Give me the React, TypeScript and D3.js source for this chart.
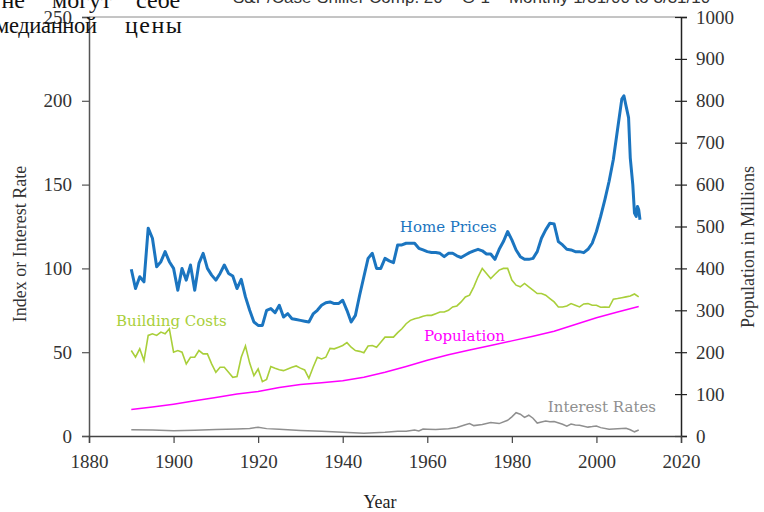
import * as d3 from "d3";
import { useEffect, useRef } from "react";

const homeYears = [
  1890, 1891, 1892, 1893, 1894, 1895, 1896, 1897, 1898, 1899, 1900, 1901, 1902, 1903, 1904, 1905, 1906, 1907, 1908, 1909,
  1910, 1911, 1912, 1913, 1914, 1915, 1916, 1917, 1918, 1919, 1920, 1921, 1922, 1923, 1924, 1925, 1926, 1927, 1928, 1929,
  1930, 1931, 1932, 1933, 1934, 1935, 1936, 1937, 1938, 1939, 1940, 1941, 1942, 1943, 1944, 1945, 1946, 1947, 1948, 1949,
  1950, 1951, 1952, 1953, 1954, 1955, 1956, 1957, 1958, 1959, 1960, 1961, 1962, 1963, 1964, 1965, 1966, 1967, 1968, 1969,
  1970, 1971, 1972, 1973, 1974, 1975, 1976, 1977, 1978, 1979, 1980, 1981, 1982, 1983, 1984, 1985, 1986, 1987, 1988, 1989,
  1990, 1991, 1992, 1993, 1994, 1995, 1996, 1997, 1998, 1999, 2000, 2001, 2002, 2003, 2004, 2005, 2006, 2006.5, 2007,
  2007.6, 2008, 2008.6, 2009, 2009.4, 2009.7, 2010, 2010.3,
];
const homePrices = [
  99.5, 88, 95, 92, 124, 118, 101, 104, 110, 104, 100, 87, 100, 93, 102, 87, 103, 109, 100, 96,
  93, 97, 102, 97, 95.5, 88, 93.5, 83, 75, 68, 66, 66, 75, 76, 73.6, 78, 71, 73, 70, 69.5,
  69, 68.5, 68, 72.8, 75, 78, 79.5, 80, 79, 79, 81, 75, 68, 72, 84, 95, 106, 109, 100, 100,
  106, 104.5, 103.4, 114, 114, 115, 115, 115, 112, 111, 110, 109.5, 109.5, 109, 107, 109, 109, 107.5, 106.5, 108,
  109.4, 110.5, 111.4, 110.5, 108.6, 108.6, 105.4, 111.4, 116, 122, 117, 111, 107, 105.4, 105.4, 106, 110, 118, 123, 127,
  126.5, 116, 114, 111.4, 111, 110, 110, 109.4, 111.4, 115, 122, 131, 141, 152, 165, 183, 201, 203, 197,
  190, 166, 150, 133, 131, 137, 135, 129,
];

const costYears = d3.range(1890, 2011);
const buildingCosts = [
  51, 47, 52, 45, 60, 61, 60, 62, 61, 64, 50, 51, 50, 43, 47, 47, 51, 49, 49, 43,
  38, 41, 41, 38, 35, 35.5, 47, 53.7, 43.5, 36, 40, 32.4, 33.8, 41.4, 40.4, 39.5, 39, 40, 41, 41.8,
  40.5, 39.4, 34.4, 41, 47, 46, 47, 52.3, 52, 53, 54, 55.7, 53, 51, 50.5, 49.7, 53.7, 54, 53, 56,
  59, 59, 59, 61.7, 64, 67, 69, 70, 70.5, 71.5, 72, 72, 73, 74, 74, 75, 77, 77.6, 80, 83,
  84, 89, 95, 100, 97, 94, 96.5, 99, 100, 100, 93, 90, 89, 91, 89, 87, 85, 85, 84, 82,
  80, 77, 77, 77.6, 79, 78, 77, 78.8, 79, 78, 78, 76.8, 77, 76.8, 81.6, 82, 82.5, 83, 83.5, 84.7,
  83,
];

const popYears = [
  1890, 1895, 1900, 1905, 1910, 1915, 1920, 1925, 1930, 1935, 1940, 1945, 1950, 1955, 1960, 1965, 1970, 1975, 1980,
  1985, 1990, 1995, 2000, 2005, 2010,
];
const population = [
  63, 69, 76, 84, 92, 100, 106, 116, 123, 127, 132, 140, 152, 166, 181, 194, 205, 216, 227, 238, 250, 266, 282, 296, 309,
];

const rateYears = [
  1890, 1895, 1900, 1905, 1910, 1915, 1918, 1920, 1922, 1925, 1930, 1935, 1940, 1945, 1950, 1953, 1955, 1957, 1958,
  1959, 1960, 1962, 1965, 1967, 1969, 1970, 1971, 1973, 1975, 1977, 1979, 1980, 1981, 1982, 1983, 1984, 1985, 1986,
  1987, 1988, 1989, 1990, 1992, 1993, 1994, 1995, 1996, 1998, 1999, 2000, 2001, 2003, 2005, 2007, 2008, 2009, 2010,
];
const interestRates = [
  3.7, 3.6, 3.2, 3.5, 3.9, 4.2, 4.5, 5.2, 4.4, 4.0, 3.3, 2.8, 2.2, 1.7, 2.3, 2.9, 2.8, 3.6, 3.0,
  4.2, 4.1, 3.9, 4.3, 5.1, 6.7, 7.4, 6.2, 6.9, 8.0, 7.4, 9.4, 11.4, 13.9, 13.0, 11.1, 12.4, 10.6, 7.7,
  8.4, 8.9, 8.5, 8.6, 7.0, 5.9, 7.1, 6.6, 6.4, 5.3, 5.6, 6.0, 5.0, 4.0, 4.3, 4.6, 3.7, 2.5, 3.6,
];

const yearTicks = [1880, 1900, 1920, 1940, 1960, 1980, 2000, 2020];
const leftTicks = [0, 50, 100, 150, 200, 250];
const rightTicks = [0, 100, 200, 300, 400, 500, 600, 700, 800, 900, 1000];

const W = 764;
const H = 512;
const M = { left: 89, right: 83, top: 17, bottom: 76 };
const serif = "'Liberation Serif', 'Times New Roman', serif";
const labelFont = "'DejaVu Serif', serif";

type Pt = [number, number];

const App = () => {
  const ref = useRef<SVGSVGElement | null>(null);

  useEffect(() => {
    if (!ref.current) return;
    const svg = d3.select(ref.current);
    svg.selectAll("*").remove();

    const x = d3.scaleLinear().domain([1880, 2020]).range([M.left, W - M.right]);
    const yL = d3.scaleLinear().domain([0, 250]).range([H - M.bottom, M.top]);
    const yR = d3.scaleLinear().domain([0, 1000]).range([H - M.bottom, M.top]);

    // frame: top border
    svg
      .append("line")
      .attr("x1", x(1880))
      .attr("x2", x(2020))
      .attr("y1", yL(250))
      .attr("y2", yL(250))
      .attr("stroke", "#8a8a8a")
      .attr("stroke-width", 1);

    // left axis
    const left = svg.append("g").attr("transform", `translate(${x(1880)},0)`);
    left
      .call(d3.axisLeft(yL).tickValues(leftTicks).tickSize(7).tickPadding(10))
      .call((g) => g.select(".domain").attr("stroke", "#555").attr("stroke-width", 1.5))
      .call((g) => g.selectAll(".tick line").attr("stroke", "#555").attr("stroke-width", 1.2))
      .call((g) =>
        g.selectAll(".tick text").attr("font-family", serif).attr("font-size", 19).attr("fill", "#333")
      );

    // right axis
    const right = svg.append("g").attr("transform", `translate(${x(2020)},0)`);
    right
      .call(d3.axisRight(yR).tickValues(rightTicks).tickFormat(d3.format("d")).tickSize(6).tickPadding(9))
      .call((g) => g.select(".domain").attr("stroke", "#222").attr("stroke-width", 1.5))
      .call((g) => g.selectAll(".tick line").attr("x1", -6).attr("stroke", "#222").attr("stroke-width", 1.2))
      .call((g) =>
        g.selectAll(".tick text").attr("font-family", serif).attr("font-size", 19).attr("fill", "#333")
      );

    // bottom axis
    const bottom = svg.append("g").attr("transform", `translate(0,${yL(0)})`);
    bottom
      .call(d3.axisBottom(x).tickValues(yearTicks).tickFormat(d3.format("d")).tickSize(7).tickPadding(12))
      .call((g) => g.select(".domain").attr("stroke", "#444").attr("stroke-width", 1.5))
      .call((g) => g.selectAll(".tick line").attr("stroke", "#444").attr("stroke-width", 1.2))
      .call((g) =>
        g.selectAll(".tick text").attr("font-family", serif).attr("font-size", 19).attr("fill", "#333")
      );

    const lineL = d3
      .line<Pt>()
      .x((d) => x(d[0]))
      .y((d) => yL(d[1]));
    const lineR = d3
      .line<Pt>()
      .x((d) => x(d[0]))
      .y((d) => yR(d[1]));

    const zip = (a: number[], b: number[]): Pt[] => a.map((v, i) => [v, b[i]]);

    svg
      .append("path")
      .datum(zip(rateYears, interestRates))
      .attr("d", lineL)
      .attr("fill", "none")
      .attr("stroke", "#8f8f8f")
      .attr("stroke-width", 1.5);

    svg
      .append("path")
      .datum(zip(popYears, population))
      .attr("d", lineR)
      .attr("fill", "none")
      .attr("stroke", "#ff00ff")
      .attr("stroke-width", 1.5);

    svg
      .append("path")
      .datum(zip(costYears, buildingCosts))
      .attr("d", lineL)
      .attr("fill", "none")
      .attr("stroke", "#a9cf3a")
      .attr("stroke-width", 1.6);

    svg
      .append("path")
      .datum(zip(homeYears, homePrices))
      .attr("d", lineL)
      .attr("fill", "none")
      .attr("stroke", "#1b75c0")
      .attr("stroke-width", 3)
      .attr("stroke-linejoin", "round");

    // series labels
    const labels: [string, number, number, string][] = [
      ["Home Prices", 1953.5, 121.5, "#1b75c0"],
      ["Building Costs", 1886.4, 65.5, "#a9cf3a"],
      ["Population", 1959.2, 56.5, "#ff00ff"],
      ["Interest Rates", 1988.5, 14.5, "#8f8f8f"],
    ];
    svg
      .selectAll("text.series")
      .data(labels)
      .join("text")
      .attr("class", "series")
      .attr("x", (d) => x(d[1]))
      .attr("y", (d) => yL(d[2]))
      .attr("font-family", labelFont)
      .attr("font-size", 15)
      .attr("fill", (d) => d[3])
      .text((d) => d[0]);

    // axis titles
    svg
      .append("text")
      .attr("transform", `translate(26,244) rotate(-90)`)
      .attr("text-anchor", "middle")
      .attr("font-family", serif)
      .attr("font-size", 18)
      .attr("fill", "#333")
      .text("Index or Interest Rate");

    svg
      .append("text")
      .attr("transform", `translate(754,247) rotate(-90)`)
      .attr("text-anchor", "middle")
      .attr("font-family", serif)
      .attr("font-size", 18)
      .attr("fill", "#333")
      .text("Population in Millions");

    svg
      .append("text")
      .attr("x", 380)
      .attr("y", 508)
      .attr("text-anchor", "middle")
      .attr("font-family", serif)
      .attr("font-size", 18)
      .attr("fill", "#222")
      .text("Year");

    // cut-off chart title at the top
    svg
      .append("text")
      .attr("x", 233)
      .attr("y", 3)
      .attr("font-family", "'Liberation Sans', Arial, sans-serif")
      .attr("font-size", 17)
      .attr("fill", "#333")
      .text("S&P/Case-Shiller Comp. 20  –  G-1  –  Monthly  1/31/00 to 3/31/10");

    // cut-off page text at the top left
    const ru = svg.append("g").attr("font-family", serif).attr("font-size", 24).attr("fill", "#111");
    ru.append("text").attr("x", 25).attr("y", 8).attr("text-anchor", "end").text("не");
    ru.append("text").attr("x", 52).attr("y", 8).text("могут");
    ru.append("text").attr("x", 136).attr("y", 8).text("себе");
    ru.append("text").attr("x", -5).attr("y", 33).attr("font-size", 22.5).attr("textLength", 102).text("медианной");
    ru.append("text").attr("x", 125).attr("y", 33).attr("font-size", 24).attr("letter-spacing", 1.5).text("цены");
  }, []);

  return (
    <svg
      ref={ref}
      width={W}
      height={H}
      style={{ position: "absolute", left: 0, top: 0, background: "#fff" }}
    />
  );
};

export default App;
